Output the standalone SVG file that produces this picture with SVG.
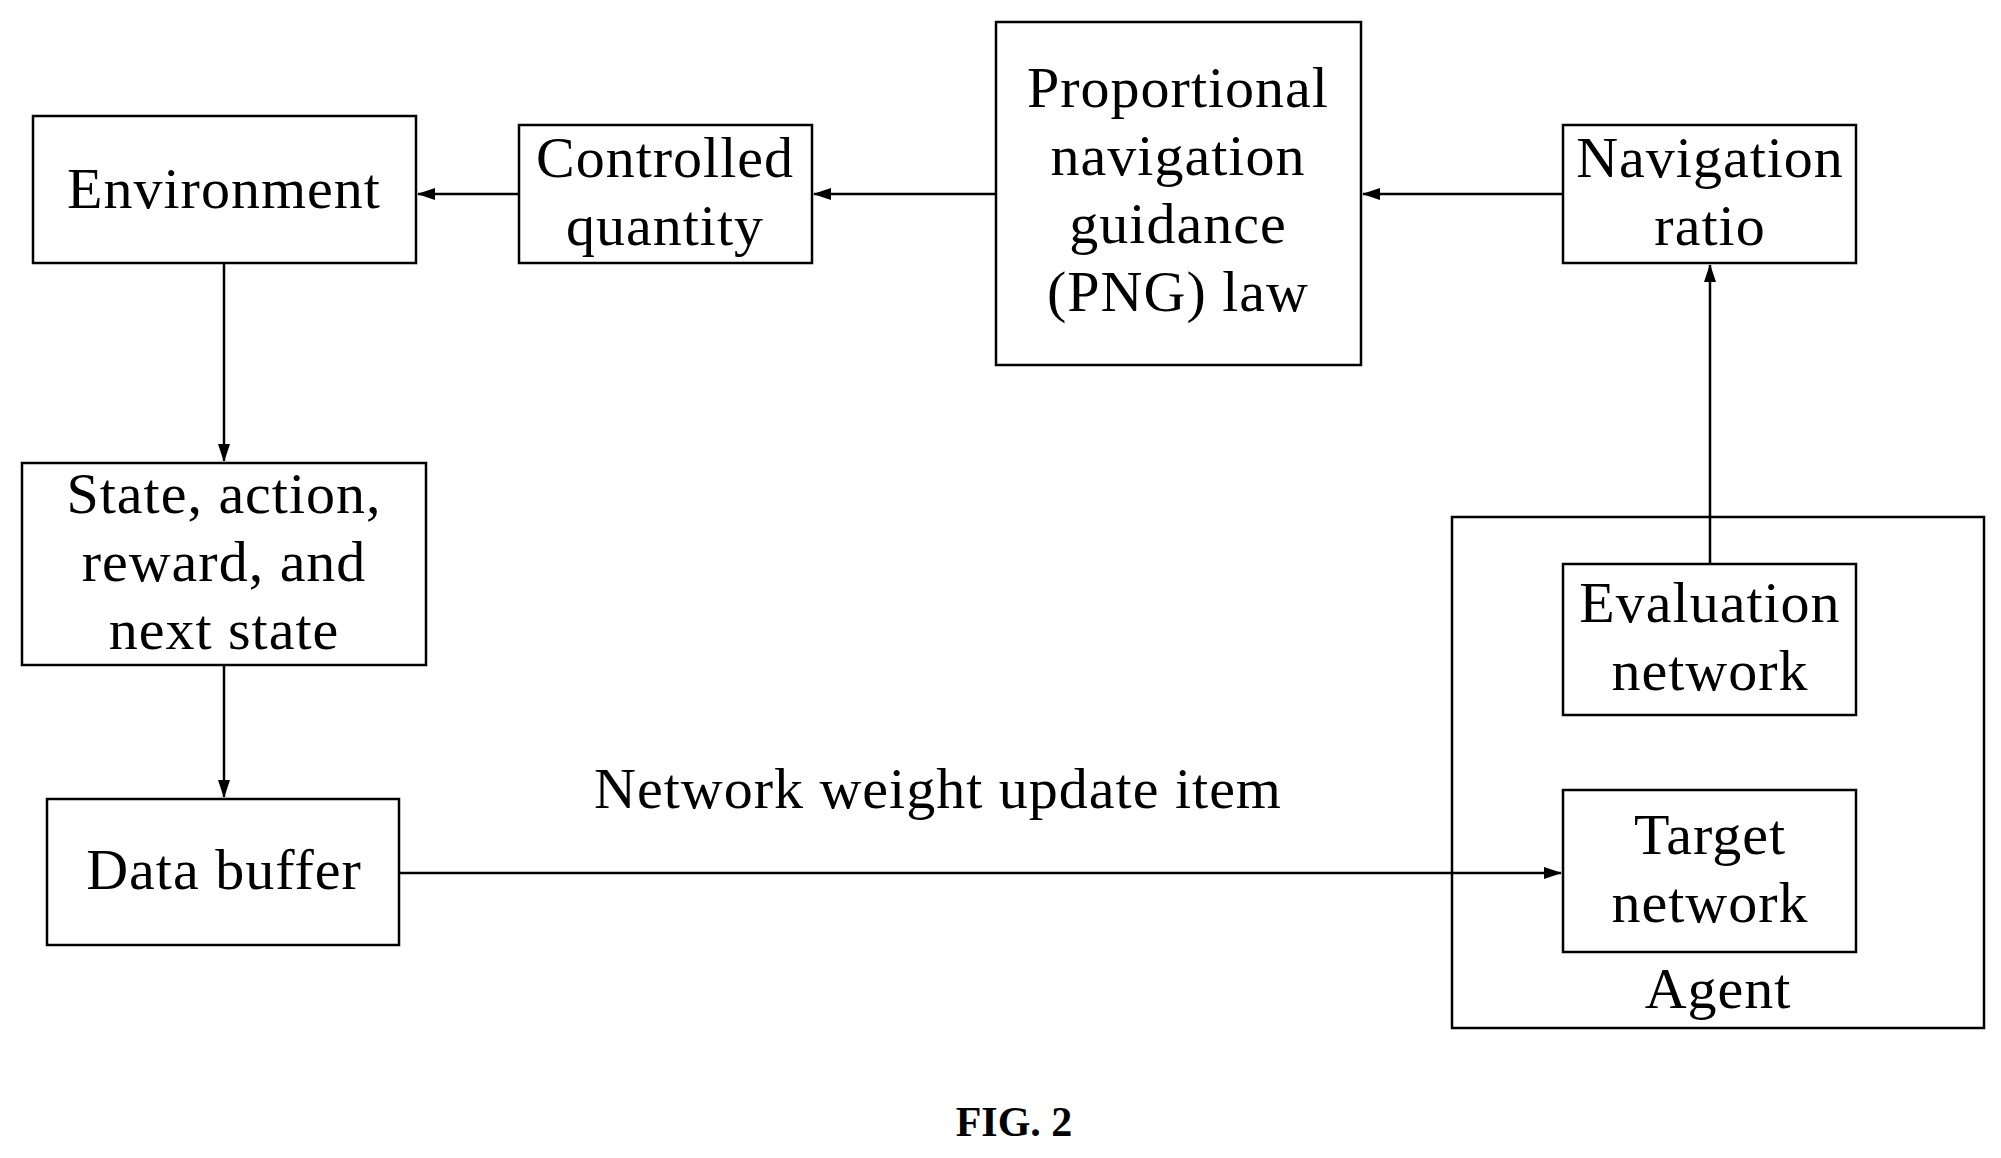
<svg xmlns="http://www.w3.org/2000/svg" width="2001" height="1158" viewBox="0 0 2001 1158">
<style>
rect{fill:#fff;stroke:#000;stroke-width:2.5}
text{font-family:"Liberation Serif",serif;font-size:58px;letter-spacing:1px;text-anchor:middle;fill:#000}
line{stroke:#000;stroke-width:2.5}
</style>
<defs><marker id="a" markerWidth="18" markerHeight="12" refX="17" refY="6" orient="auto" markerUnits="userSpaceOnUse"><path d="M0,0 L18,6 L0,12 Z"/></marker></defs>
<rect width="2001" height="1158" style="stroke:none"/>
<g id="agent"><rect x="1452" y="517" width="532" height="511"/><text x="1718" y="1008">Agent</text></g>
<g id="env"><rect x="33" y="116" width="383" height="147"/><text x="224" y="208">Environment</text></g>
<g id="ctrl"><rect x="519" y="125" width="293" height="138"/><text x="665" y="177">Controlled</text><text x="665" y="245">quantity</text></g>
<g id="png"><rect x="996" y="22" width="365" height="343"/><text x="1178" y="107">Proportional</text><text x="1178" y="175">navigation</text><text x="1178" y="243">guidance</text><text x="1178" y="311">(PNG) law</text></g>
<g id="nav"><rect x="1563" y="125" width="293" height="138"/><text x="1710" y="177">Navigation</text><text x="1710" y="245">ratio</text></g>
<g id="state"><rect x="22" y="463" width="404" height="202"/><text x="224" y="513">State, action,</text><text x="224" y="581">reward, and</text><text x="224" y="649">next state</text></g>
<g id="buffer"><rect x="47" y="799" width="352" height="146"/><text x="224" y="889">Data buffer</text></g>
<g id="eval"><rect x="1563" y="564" width="293" height="151"/><text x="1710" y="622">Evaluation</text><text x="1710" y="690">network</text></g>
<g id="target"><rect x="1563" y="790" width="293" height="162"/><text x="1710" y="854">Target</text><text x="1710" y="922">network</text></g>
<g id="connectors">
<line x1="519" y1="194" x2="418" y2="194" marker-end="url(#a)"/>
<line x1="996" y1="194" x2="814" y2="194" marker-end="url(#a)"/>
<line x1="1563" y1="194" x2="1363" y2="194" marker-end="url(#a)"/>
<line x1="224" y1="263" x2="224" y2="461" marker-end="url(#a)"/>
<line x1="224" y1="665" x2="224" y2="797" marker-end="url(#a)"/>
<line x1="399" y1="873" x2="1561" y2="873" marker-end="url(#a)"/>
<line x1="1710" y1="564" x2="1710" y2="265" marker-end="url(#a)"/>
</g>
<text x="938" y="808">Network weight update item</text>
<text x="1014" y="1136" style="font-weight:bold;font-size:42px;letter-spacing:0">FIG. 2</text>
</svg>
